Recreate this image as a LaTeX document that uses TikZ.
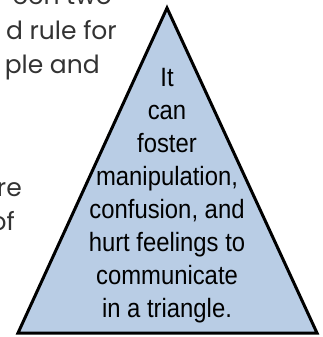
\documentclass[tikz,border=0pt]{standalone}
\usepackage{fontspec}
\setmainfont{Liberation Sans}
\newfontfamily\gothic{Poppins}
\newfontfamily\narrow[FakeStretch=0.9]{Liberation Sans}
\definecolor{tribg}{HTML}{B9CDE5}
\begin{document}
\begin{tikzpicture}[x=1pt,y=-1pt]

	\tikzstyle{side}=[font=\gothic\fontsize{25}{35}\selectfont,
		text=black!80,inner sep=0pt]
	\tikzstyle{inside}=[font=\narrow\fontsize{26.5}{33}\selectfont,
		align=center,inner sep=0pt]

	\useasboundingbox (0,0) rectangle (322,337);
	\clip (0,0) rectangle (322,337);

	\coordinate (apex)  at (167,8);
	\coordinate (left)  at (18,333);
	\coordinate (right) at (317,333);
	\draw[fill=tribg,line width=3pt,line join=miter]
		(apex) -- (left) -- (right) -- cycle;

	\node[side,anchor=base east] (l1) at (112,5)   {een two};
	\node[side,anchor=base east] (l2) at (117,40)  {d rule for};
	\node[side,anchor=base east] (l3) at (100,74)  {ple and};
	\node[side,anchor=base east] (l4) at (22,196)  {re};
	\node[side,anchor=base east] (l5) at (15,230)  {of};

	\node[inside,anchor=north] (msg) at (167,68)
		{It\\can\\foster\\manipulation,\\confusion, and\\hurt feelings to\\communicate\\in a triangle.};

\end{tikzpicture}
\end{document}
